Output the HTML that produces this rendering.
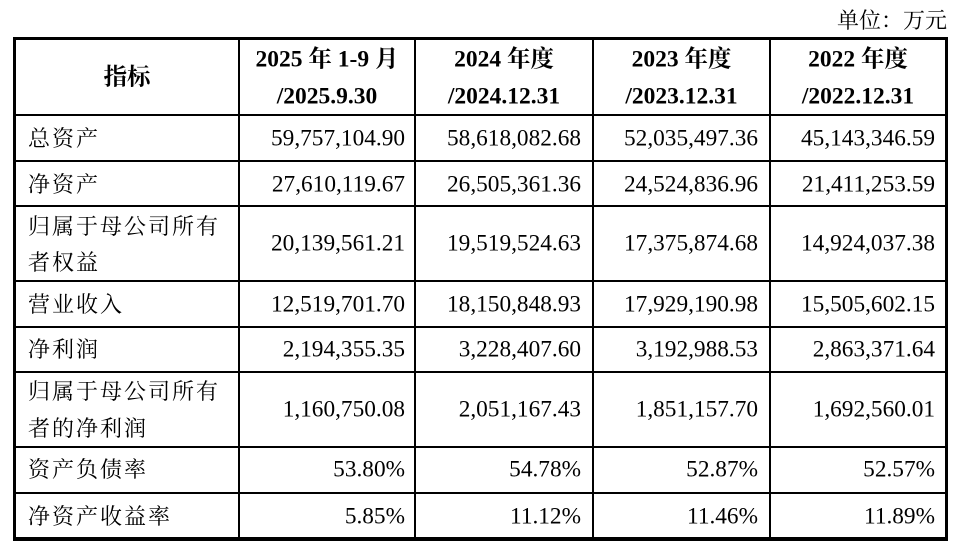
<!DOCTYPE html>
<html><head><meta charset="utf-8"><style>
body{margin:0;width:962px;height:549px;background:#fff;position:relative;overflow:hidden;font-family:"Liberation Serif","Noto Serif CJK SC",serif;color:#000}
.l{position:absolute;background:#000}
.t{position:absolute;white-space:nowrap;line-height:1;transform:translateY(-50%)}
.n{font-size:23.3px;text-align:right}
.c{font-size:22px;left:28px;letter-spacing:2px;font-family:"Noto Serif CJK SC",serif}
.h{font-size:23.5px;font-weight:bold;text-align:center}
</style></head><body>
<div class="t" style="right:15px;top:20px;font-size:22px;font-family:'Noto Serif CJK SC',serif">单位：万元</div>
<div class="l" style="left:13px;top:37px;width:935px;height:3px"></div>
<div class="l" style="left:13px;top:537px;width:935px;height:4px"></div>
<div class="l" style="left:13px;top:37px;width:3px;height:504px"></div>
<div class="l" style="left:945px;top:37px;width:3px;height:504px"></div>
<div class="l" style="left:238px;top:37px;width:2px;height:504px"></div>
<div class="l" style="left:414px;top:37px;width:2px;height:504px"></div>
<div class="l" style="left:592px;top:37px;width:2px;height:504px"></div>
<div class="l" style="left:769px;top:37px;width:2px;height:504px"></div>
<div class="l" style="left:13px;top:114px;width:935px;height:2px"></div>
<div class="l" style="left:13px;top:160px;width:935px;height:2px"></div>
<div class="l" style="left:13px;top:205px;width:935px;height:2px"></div>
<div class="l" style="left:13px;top:280px;width:935px;height:2px"></div>
<div class="l" style="left:13px;top:326px;width:935px;height:2px"></div>
<div class="l" style="left:13px;top:371px;width:935px;height:2px"></div>
<div class="l" style="left:13px;top:446px;width:935px;height:2px"></div>
<div class="l" style="left:13px;top:492px;width:935px;height:2px"></div>

<div class="t h" style="left:16px;width:222px;top:78px">指标</div>
<div class="t h" style="left:240px;width:174px;top:60px">2025 年 1-9 月</div>
<div class="t h" style="left:240px;width:174px;top:97px">/2025.9.30</div>
<div class="t h" style="left:416px;width:176px;top:60px">2024 年度</div>
<div class="t h" style="left:416px;width:176px;top:97px">/2024.12.31</div>
<div class="t h" style="left:594px;width:175px;top:60px">2023 年度</div>
<div class="t h" style="left:594px;width:175px;top:97px">/2023.12.31</div>
<div class="t h" style="left:771px;width:174px;top:60px">2022 年度</div>
<div class="t h" style="left:771px;width:174px;top:97px">/2022.12.31</div>

<div class="t c" style="top:138px">总资产</div>
<div class="t c" style="top:184px">净资产</div>
<div class="t c" style="top:226px">归属于母公司所有</div>
<div class="t c" style="top:262px">者权益</div>
<div class="t c" style="top:304px">营业收入</div>
<div class="t c" style="top:349px">净利润</div>
<div class="t c" style="top:391px">归属于母公司所有</div>
<div class="t c" style="top:428px">者的净利润</div>
<div class="t c" style="top:469px">资产负债率</div>
<div class="t c" style="top:516px">净资产收益率</div>

<div class="t n" style="right:557px;top:139px">59,757,104.90</div>
<div class="t n" style="right:381px;top:139px">58,618,082.68</div>
<div class="t n" style="right:204px;top:139px">52,035,497.36</div>
<div class="t n" style="right:27px;top:139px">45,143,346.59</div>

<div class="t n" style="right:557px;top:185px">27,610,119.67</div>
<div class="t n" style="right:381px;top:185px">26,505,361.36</div>
<div class="t n" style="right:204px;top:185px">24,524,836.96</div>
<div class="t n" style="right:27px;top:185px">21,411,253.59</div>

<div class="t n" style="right:557px;top:244px">20,139,561.21</div>
<div class="t n" style="right:381px;top:244px">19,519,524.63</div>
<div class="t n" style="right:204px;top:244px">17,375,874.68</div>
<div class="t n" style="right:27px;top:244px">14,924,037.38</div>

<div class="t n" style="right:557px;top:305px">12,519,701.70</div>
<div class="t n" style="right:381px;top:305px">18,150,848.93</div>
<div class="t n" style="right:204px;top:305px">17,929,190.98</div>
<div class="t n" style="right:27px;top:305px">15,505,602.15</div>

<div class="t n" style="right:557px;top:350px">2,194,355.35</div>
<div class="t n" style="right:381px;top:350px">3,228,407.60</div>
<div class="t n" style="right:204px;top:350px">3,192,988.53</div>
<div class="t n" style="right:27px;top:350px">2,863,371.64</div>

<div class="t n" style="right:557px;top:410px">1,160,750.08</div>
<div class="t n" style="right:381px;top:410px">2,051,167.43</div>
<div class="t n" style="right:204px;top:410px">1,851,157.70</div>
<div class="t n" style="right:27px;top:410px">1,692,560.01</div>

<div class="t n" style="right:557px;top:470px">53.80%</div>
<div class="t n" style="right:381px;top:470px">54.78%</div>
<div class="t n" style="right:204px;top:470px">52.87%</div>
<div class="t n" style="right:27px;top:470px">52.57%</div>

<div class="t n" style="right:557px;top:517px">5.85%</div>
<div class="t n" style="right:381px;top:517px">11.12%</div>
<div class="t n" style="right:204px;top:517px">11.46%</div>
<div class="t n" style="right:27px;top:517px">11.89%</div>
</body></html>
